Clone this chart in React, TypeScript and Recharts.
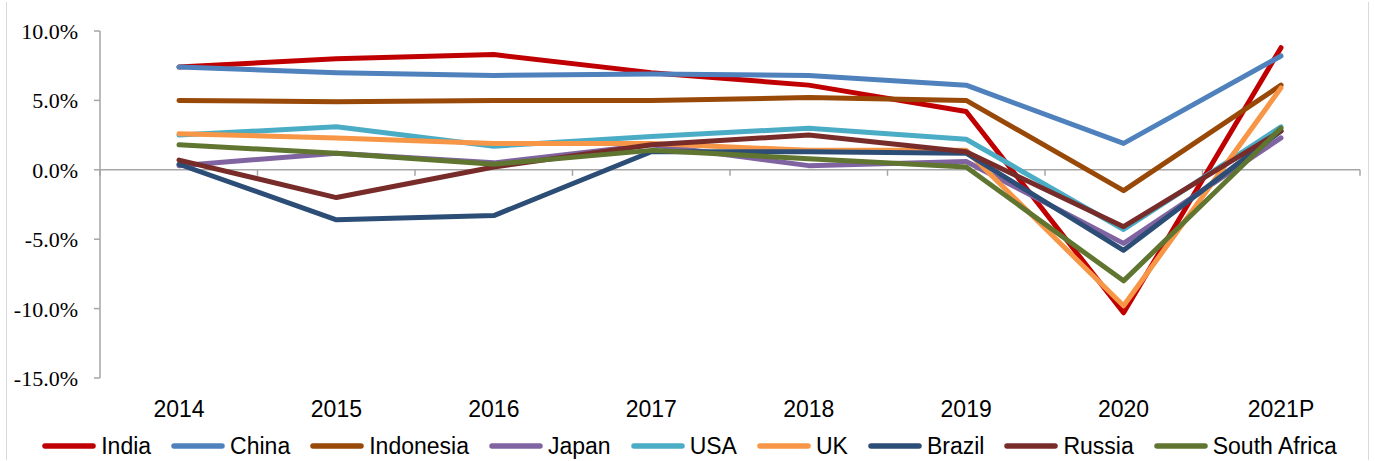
import { LineChart, Line, XAxis, YAxis, Legend, ReferenceLine } from "recharts"

const years = ["2014", "2015", "2016", "2017", "2018", "2019", "2020", "2021P"]

const india = [7.4, 8.0, 8.3, 7.0, 6.1, 4.2, -10.3, 8.8]
const china = [7.4, 7.0, 6.8, 6.9, 6.8, 6.1, 1.9, 8.2]
const indonesia = [5.0, 4.9, 5.0, 5.0, 5.2, 5.0, -1.5, 6.1]
const japan = [0.3, 1.2, 0.5, 1.8, 0.3, 0.6, -5.3, 2.3]
const usa = [2.5, 3.1, 1.7, 2.4, 3.0, 2.2, -4.3, 3.1]
const uk = [2.6, 2.3, 1.9, 1.9, 1.4, 1.4, -9.8, 5.9]
const brazil = [0.4, -3.6, -3.3, 1.3, 1.3, 1.2, -5.8, 2.8]
const russia = [0.7, -2.0, 0.2, 1.8, 2.5, 1.3, -4.1, 2.8]
const southAfrica = [1.8, 1.2, 0.4, 1.4, 0.8, 0.2, -8.0, 3.0]

const yTicks = [-15, -10, -5, 0, 5, 10]

const seriesList = [
  { key: "india", name: "India", color: "#c00000", values: india },
  { key: "china", name: "China", color: "#4f81bd", values: china },
  { key: "indonesia", name: "Indonesia", color: "#984807", values: indonesia },
  { key: "japan", name: "Japan", color: "#8064a2", values: japan },
  { key: "usa", name: "USA", color: "#4bacc6", values: usa },
  { key: "uk", name: "UK", color: "#f79646", values: uk },
  { key: "brazil", name: "Brazil", color: "#2c4d75", values: brazil },
  { key: "russia", name: "Russia", color: "#772c2a", values: russia },
  { key: "southAfrica", name: "South Africa", color: "#5f7530", values: southAfrica },
]

const data = years.map((year, i) => {
  const row: Record<string, string | number> = { year }
  seriesList.forEach((s) => {
    row[s.key] = s.values[i]
  })
  return row
})

const AXIS_GREY = "#a6a6a6"
const SANS = "'Liberation Sans', Arial, sans-serif"
const SERIF = "'Liberation Serif', 'Times New Roman', serif"

function YTick({ x, y, payload }: any) {
  return (
    <text x={x} y={y} dy="0.36em" textAnchor="end" fill="#000" fontSize={22} fontFamily={SERIF}>
      {`${Number(payload.value).toFixed(1)}%`}
    </text>
  )
}

function XTick({ x, y, payload }: any) {
  return (
    <text x={x} y={y} dy="0.71em" textAnchor="middle" fill="#000" fontSize={23} fontFamily={SANS}>
      {payload.value}
    </text>
  )
}

// horizontal axis line drawn at 0 with tick marks between categories
function ZeroAxis(props: any) {
  const left = Math.min(props.x1, props.x2)
  const right = Math.max(props.x1, props.x2)
  const y = props.y1
  const step = (right - left) / years.length
  const marks = []
  for (let k = 0; k <= years.length; k++) {
    const x = left + k * step
    marks.push(<line key={k} x1={x} x2={x} y1={y} y2={y + 6} stroke={AXIS_GREY} strokeWidth={1.5} />)
  }
  return (
    <g>
      <line x1={left} x2={right} y1={y} y2={y} stroke={AXIS_GREY} strokeWidth={1.5} />
      {marks}
    </g>
  )
}

function LegendRow({ payload }: any) {
  const order = seriesList.map((s) => s.name)
  const items = [...(payload || [])].sort(
    (a: any, b: any) => order.indexOf(a.value) - order.indexOf(b.value)
  )
  return (
    <div
      style={{
        display: "flex",
        justifyContent: "center",
        alignItems: "center",
        height: 30,
        fontFamily: SANS,
        fontSize: 23,
        color: "#000",
        paddingLeft: 4,
      }}
    >
      {items.map((item: any, i: number) => (
        <div
          key={item.value}
          style={{ display: "flex", alignItems: "center", marginRight: i === items.length - 1 ? 0 : 20 }}
        >
          <svg width={54} height={8}>
            <line x1={3} x2={51} y1={4} y2={4} stroke={item.color} strokeWidth={5.5} strokeLinecap="round" />
          </svg>
          <span style={{ marginLeft: 5 }}>{item.value}</span>
        </div>
      ))}
    </div>
  )
}

export default function App() {
  return (
    <div style={{ position: "relative", width: 1375, height: 461, background: "#fff" }}>
      <style>{"body { margin: 0; }"}</style>
      <div
        style={{
          position: "absolute",
          left: 6,
          top: 2,
          width: 1361,
          height: 458,
          borderLeft: "1px solid #d9d9d9",
          borderRight: "1px solid #d9d9d9",
        }}
      />
      <LineChart
        width={1375}
        height={461}
        data={data}
        margin={{ top: 31, right: 15, left: 0, bottom: 0 }}
      >
        <XAxis
          dataKey="year"
          axisLine={false}
          tickLine={false}
          tickSize={0}
          tickMargin={23}
          height={53}
          interval={0}
          padding={{ left: 79, right: 79 }}
          tick={XTick}
        />
        <YAxis
          width={100}
          domain={[-15, 10]}
          ticks={yTicks}
          interval={0}
          axisLine={{ stroke: AXIS_GREY, strokeWidth: 1.5 }}
          tickLine={{ stroke: AXIS_GREY, strokeWidth: 1.5 }}
          tickSize={6}
          tickMargin={16}
          tick={YTick}
        />
        <ReferenceLine y={0} shape={ZeroAxis} />
        <Legend
          verticalAlign="bottom"
          height={30}
          content={LegendRow}
          wrapperStyle={{ left: 0, width: 1375 }}
        />
        {seriesList.map((s) => (
          <Line
            key={s.key}
            type="linear"
            dataKey={s.key}
            name={s.name}
            stroke={s.color}
            strokeWidth={5}
            strokeLinejoin="round"
            strokeLinecap="round"
            dot={false}
            activeDot={false}
            isAnimationActive={false}
          />
        ))}
      </LineChart>
    </div>
  )
}
